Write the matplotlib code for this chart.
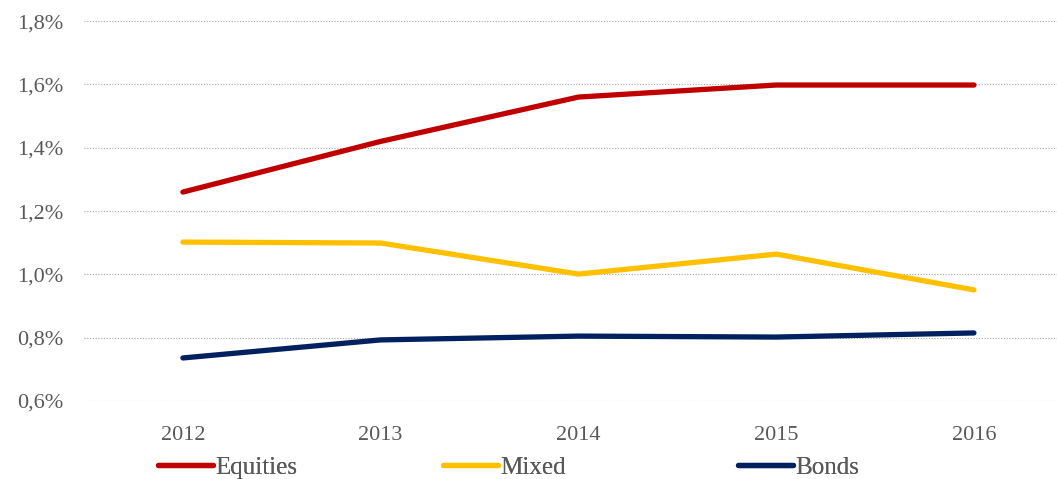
import matplotlib
matplotlib.use("Agg")
import matplotlib.pyplot as plt
from matplotlib.ticker import FuncFormatter

years = ["2012", "2013", "2014", "2015", "2016"]
equities = [1.26, 1.42, 1.56, 1.598, 1.598]
mixed = [1.102, 1.099, 1.001, 1.064, 0.951]
bonds = [0.736, 0.793, 0.805, 0.802, 0.815]

text_color = "#595959"
plt.rcParams['font.family'] = ['Liberation Serif', 'DejaVu Serif']

fig = plt.figure(figsize=(10.57, 4.79), dpi=100)
ax = fig.add_axes([0.0795, 0.1628, 0.9205, 0.7932])

x = range(len(years))
lines = []
lines += ax.plot(x, equities, color="#C00000", lw=3.8, solid_capstyle="round", label="Equities")
lines += ax.plot(x, mixed, color="#FFC000", lw=3.8, solid_capstyle="round", label="Mixed")
lines += ax.plot(x, bonds, color="#002060", lw=3.8, solid_capstyle="round", label="Bonds")

ax.set_ylim(0.6, 1.8)
ax.set_yticks([0.6, 0.8, 1.0, 1.2, 1.4, 1.6, 1.8])
ax.yaxis.set_major_formatter(FuncFormatter(lambda v, p: f"{v:.1f}%".replace(".", ",")))
ax.set_xlim(-0.5, 4.42)
ax.set_xticks(list(x))
ax.set_xticklabels(years)

ax.grid(axis="y", color="#A6A6A6", linestyle=(0, (1, 1.5)), lw=0.8)
ax.set_axisbelow(True)
for s in ax.spines.values():
    s.set_visible(False)
ax.tick_params(length=0, labelsize=16, colors=text_color)
ax.tick_params(axis="y", pad=15)
ax.tick_params(axis="x", pad=18)

# one legend entry per slot, evenly spaced like the original
for line, x0 in zip(lines, [0.128, 0.398, 0.677]):
    leg = fig.legend(handles=[line], loc="lower left", bbox_to_anchor=(x0, -0.046),
                     frameon=False, fontsize=18, handlelength=2.2, handletextpad=0.1,
                     labelcolor=text_color)
    fig.add_artist(leg)

fig.savefig("out.png", dpi=100)
